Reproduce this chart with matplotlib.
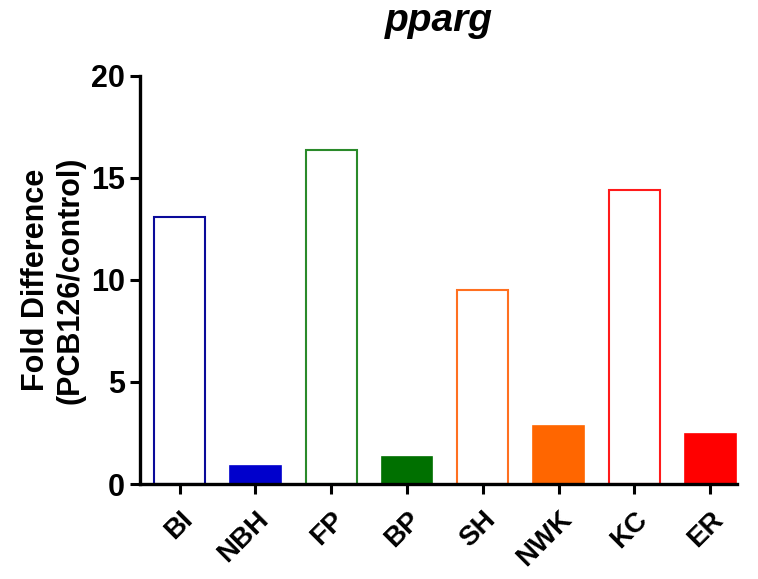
import matplotlib
matplotlib.use('Agg')
import matplotlib.pyplot as plt
import numpy as np

plt.rcParams['font.family'] = ['Liberation Sans', 'DejaVu Sans']
plt.rcParams['font.weight'] = 'bold'

# Data
sites = ['BI', 'NBH', 'FP', 'BP', 'SH', 'NWK', 'KC', 'ER']
fold_diff = [13.1, 0.88, 16.35, 1.33, 9.5, 2.86, 14.4, 2.45]
colors = ['#0a0a9a', '#0000cc', '#2a8a2a', '#007000', '#ff7020', '#ff6600', '#ff1a1a', '#ff0000']
filled = [False, True, False, True, False, True, False, True]

fig = plt.figure(figsize=(7.58, 5.79), dpi=100)
ax = fig.add_axes([0.185, 0.164, 0.787, 0.705])

x = np.arange(len(sites))
for i in range(len(sites)):
    if filled[i]:
        ax.bar(x[i], fold_diff[i], width=0.67, color=colors[i], edgecolor=colors[i], linewidth=1.2)
    else:
        ax.bar(x[i], fold_diff[i], width=0.67, facecolor='white', edgecolor=colors[i], linewidth=1.5)

ax.set_xlim(-0.52, 7.35)
ax.set_ylim(0, 20)
ax.set_yticks([0, 5, 10, 15, 20])
ax.set_xticks(x)
ax.set_xticklabels(sites, rotation=45, ha='right', rotation_mode='anchor', fontsize=20, fontweight='bold')
ax.tick_params(axis='y', labelsize=22, width=2.2, length=7, pad=4)
ax.tick_params(axis='x', width=2.2, length=7, pad=9)

for side in ['top', 'right']:
    ax.spines[side].set_visible(False)
for side in ['left', 'bottom']:
    ax.spines[side].set_linewidth(2.4)

ax.set_ylabel('Fold Difference\n(PCB126/control)', fontsize=22, fontweight='bold', labelpad=4)
ax.set_title('pparg', fontsize=28, fontweight='bold', fontstyle='italic', pad=32)

fig.savefig('out.png', dpi=100)
